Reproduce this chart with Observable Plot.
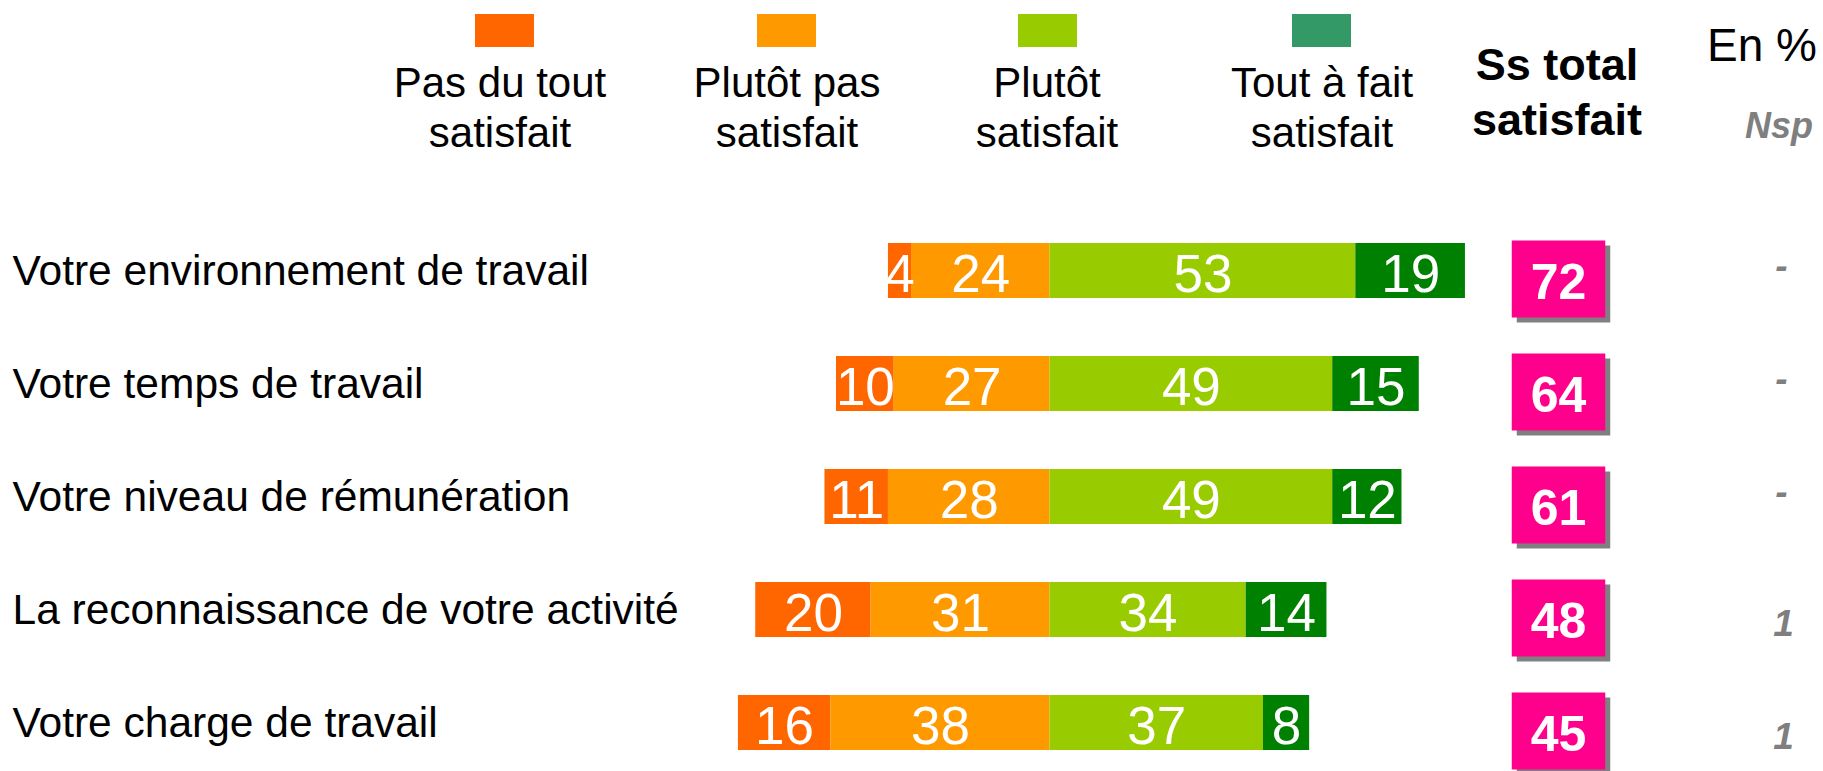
<!DOCTYPE html>
<html>
<head>
<meta charset="utf-8">
<script src="https://cdn.jsdelivr.net/npm/d3@7"></script>
<script src="https://cdn.jsdelivr.net/npm/@observablehq/plot@0.6"></script>
<style>
  body { margin: 0; background: #fff; font-family: "Liberation Sans", Arial, sans-serif; }
  #wrap { width: 1823px; }
  #head { position: relative; height: 190px; width: 1823px; }
  .sw { position: absolute; top: 14px; width: 59px; height: 33px; }
  .lg { position: absolute; top: 58px; width: 320px; text-align: center; font-size: 42px; line-height: 50px; color: #000; white-space: nowrap; }
  .tot { position: absolute; top: 37px; left: 1407px; width: 300px; text-align: center; font-size: 45px; line-height: 55px; font-weight: bold; color: #000; }
  .pct { position: absolute; top: 22px; left: 1707px; font-size: 46px; line-height: 46px; color: #000; white-space: nowrap; }
  .nsp { position: absolute; top: 108px; left: 1745px; font-size: 36px; line-height: 36px; font-weight: bold; font-style: italic; color: #7f7f7f; }
</style>
</head>
<body>
<div id="wrap">
  <div id="head"></div>
  <div id="chart"></div>
</div>
<script>
// ---- Data ----
const questions = [
  "Votre environnement de travail",
  "Votre temps de travail",
  "Votre niveau de rémunération",
  "La reconnaissance de votre activité",
  "Votre charge de travail"
];
const categories = ["Pas du tout satisfait", "Plutôt pas satisfait", "Plutôt satisfait", "Tout à fait satisfait"];
const pasDuTout  = [4, 10, 11, 20, 16];
const plutotPas  = [24, 27, 28, 31, 38];
const plutot     = [53, 49, 49, 34, 37];
const toutAFait  = [19, 15, 12, 14, 8];
const totalSatisfait = [72, 64, 61, 48, 45];
const nspValues  = ["-", "-", "-", "1", "1"];

// ---- Styles ----
const barColors    = ["#ff6600", "#ff9900", "#99cc00", "#008000"];
const legendColors = ["#ff6600", "#ff9900", "#99cc00", "#339966"];
const legendCenters = [500, 787, 1047, 1322];
const swatchCenters = [504, 786, 1047, 1321];
const FONT = "'Liberation Sans', Arial, sans-serif";

// ---- Header (legend + column titles) ----
const head = document.getElementById("head");
categories.forEach((c, i) => {
  const sw = document.createElement("div");
  sw.className = "sw";
  sw.style.left = (swatchCenters[i] - 29.5) + "px";
  sw.style.background = legendColors[i];
  head.appendChild(sw);
  const lg = document.createElement("div");
  lg.className = "lg";
  lg.style.left = (legendCenters[i] - 160) + "px";
  lg.innerHTML = c.replace(" satisfait", "<br>satisfait");
  head.appendChild(lg);
});
head.insertAdjacentHTML("beforeend",
  '<div class="tot">Ss total<br>satisfait</div><div class="pct">En %</div><div class="nsp">Nsp</div>');

// ---- Table for Plot ----
const series = [pasDuTout, plutotPas, plutot, toutAFait];
const signs = [-1, -1, 1, 1];
const rows = questions.flatMap((q, i) =>
  categories.map((c, j) => ({ question: q, category: c, value: signs[j] * series[j][i] }))
);
const side = questions.map((q, i) => ({ question: q, total: totalSatisfait[i], nsp: nspValues[i] }));
const stackOrder = [categories[1], categories[0], categories[2], categories[3]];

const boxSymbol = { draw(ctx) { ctx.rect(-46.75, -38.5, 93.5, 77); } };
const BOX_DX = -68.5, BOX_DY = 8;

const chart = Plot.plot({
  width: 1823,
  height: 581,
  marginLeft: 472.5,
  marginRight: 196.5,
  style: { fontFamily: FONT, background: "#fff" },
  x: { domain: [-100, 100], axis: null },
  y: { domain: questions, range: [23.5, 588.5], padding: 0, axis: null },
  color: { domain: categories, range: barColors },
  marks: [
    Plot.barX(rows, Plot.stackX({
      x: "value", y: "question", fill: "category", order: stackOrder,
      insetTop: 29, insetBottom: 29
    })),
    Plot.text(rows, Plot.stackX({
      x: "value", y: "question", z: "category", order: stackOrder,
      text: d => Math.abs(d.value), fill: "white", fontSize: 53, dy: 4
    })),
    Plot.text(questions, {
      y: d => d, text: d => d, frameAnchor: "left", dx: -460.5,
      textAnchor: "start", fontSize: 42.5, fill: "black"
    }),
    Plot.dot(side, {
      y: "question", frameAnchor: "right", dx: BOX_DX + 5, dy: BOX_DY + 5,
      symbol: boxSymbol, r: 10, fill: "#808080", stroke: "none"
    }),
    Plot.dot(side, {
      y: "question", frameAnchor: "right", dx: BOX_DX, dy: BOX_DY,
      symbol: boxSymbol, r: 10, fill: "#ff008c", stroke: "none"
    }),
    Plot.text(side, {
      y: "question", text: "total", frameAnchor: "right", textAnchor: "middle",
      dx: BOX_DX, dy: BOX_DY + 4,
      fill: "white", fontWeight: "bold", fontSize: 50
    }),
    Plot.text(side.filter(d => d.nsp !== "-"), {
      y: "question", text: "nsp", frameAnchor: "right", textAnchor: "middle",
      dx: 156.5, dy: 14,
      fill: "#7f7f7f", fontWeight: "bold", fontStyle: "italic", fontSize: 37
    }),
    Plot.text(side.filter(d => d.nsp === "-"), {
      y: "question", text: "nsp", frameAnchor: "right", textAnchor: "middle",
      dx: 154.5, dy: -5,
      fill: "#7f7f7f", fontWeight: "bold", fontStyle: "italic", fontSize: 37
    })
  ]
});
document.getElementById("chart").appendChild(chart);
</script>
</body>
</html>
